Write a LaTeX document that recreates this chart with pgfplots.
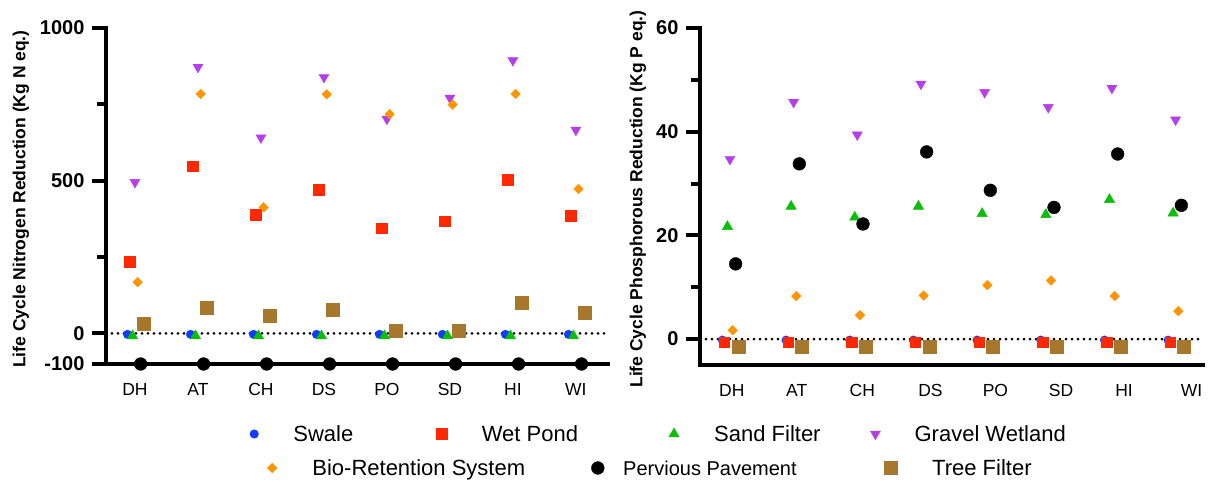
\documentclass[border=0pt]{standalone}
\usepackage{fontspec}
\setmainfont{Liberation Sans}
\usepackage{pgfplots}
\usepackage{pgfplotstable}
\pgfplotsset{compat=1.18}

\definecolor{cswale}{RGB}{20,60,250}
\definecolor{cwet}{RGB}{255,40,0}
\definecolor{csand}{RGB}{10,190,10}
\definecolor{cgravel}{RGB}{182,62,232}
\definecolor{cbio}{RGB}{255,147,0}
\definecolor{ctree}{RGB}{165,120,45}

% Nitrogen (Kg N eq.)
\pgfplotstableread{
x swale wet sand gravel bio perv tree
1 -3 234 -8 495 168 -100 31
2 -3 547 -8 872 784 -100 83
3 -3 388 -8 641 413 -100 58
4 -3 471 -8 839 783 -100 77
5 -3 344 -8 702 718 -100 9
6 -3 368 -8 771 749 -100 9
7 -3 504 -8 894 784 -100 102
8 -3 385 -8 666 473 -100 69
}\nitrogen

% Phosphorous (Kg P eq.)
\pgfplotstableread{
x swale wet sand gravel bio perv tree
1 -0.2 -0.6 21.7 34.7 1.7 14.5 -1.4
2 -0.2 -0.6 25.6 45.7 8.3 33.8 -1.4
3 -0.2 -0.6 23.5 39.4 4.6 22.2 -1.4
4 -0.2 -0.6 25.6 49.2 8.4 36.1 -1.4
5 -0.2 -0.6 24.2 47.6 10.4 28.7 -1.4
6 -0.2 -0.6 24.0 44.7 11.3 25.4 -1.4
7 -0.2 -0.6 26.9 48.4 8.3 35.7 -1.4
8 -0.2 -0.6 24.3 42.3 5.4 25.8 -1.4
}\phosphorus

\pgfplotsset{
  sSwale/.style={only marks, mark=*, color=cswale, mark size=4.3pt},
  sWet/.style={only marks, mark=square*, color=cwet, mark size=5.3pt},
  sSand/.style={only marks, mark=triangle*, color=csand, mark size=6pt},
  sGravel/.style={only marks, mark=triangle*, mark options={rotate=180}, color=cgravel, mark size=5.8pt},
  sBio/.style={only marks, mark=square*, mark options={rotate=45}, color=cbio, mark size=3.4pt},
  sPerv/.style={only marks, mark=*, color=black, mark size=6.4pt},
  sTree/.style={only marks, mark=square*, color=ctree, mark size=6.5pt},
  limg/.style={legend image code/.code={
      \draw[##1] plot coordinates {(6pt,0pt)};
      \path (0pt,0pt) (12pt,0pt);}},
  zeroline/.style={black, line width=3pt, dash pattern=on 0pt off 6pt, line cap=round, forget plot},
  panel/.style={
    scale only axis,
    axis x line*=bottom, axis y line*=left,
    axis line style={-, line width=4pt, line cap=rect, black},
    xtick=\empty,
    extra x tick labels={DH,AT,CH,DS,PO,SD,HI,WI},
    extra x tick style={tick style={draw=none}, major tick length=0pt},
    tick align=outside,
    major tick length=14pt, minor tick length=9pt,
    tick style={black, line width=4pt},
    xticklabel style={font=\fontsize{17.5}{20}\selectfont, inner sep=0pt, anchor=north, yshift=-19pt},
    yticklabel style={font=\fontsize{20}{22}\selectfont\bfseries, xshift=-4pt},
    /pgf/number format/assume math mode=true,
    /pgf/number format/1000 sep={},
    clip=false,
    legend style={draw=none, fill=none, inner sep=0pt, outer sep=0pt,
      column sep=0pt, row sep=0pt, anchor=west,
      font=\fontsize{22}{24}\selectfont,
      nodes={inner sep=0pt, text depth=0pt},
      /tikz/every even column/.append style={column sep=0pt}},
  },
}

\begin{document}
\begin{tikzpicture}
\useasboundingbox (-106pt,-119pt) rectangle (1105pt,364pt);

\begin{axis}[panel,
  width=502pt, height=336pt,
  xmin=0.54, xmax=8.51, ymin=-100, ymax=1000,
  extra x ticks={1,2,3,4,5,6,7,8},
  ytick={-100,0,500,1000}, minor ytick={250,750},
  ylabel={Life Cycle Nitrogen Reduction (Kg N eq.)},
  every axis y label/.style={at={(axis description cs:-0.1693,0.491)}, rotate=90, anchor=center,
    font=\fontsize{17.5}{20}\selectfont\bfseries},
  legend columns=4,
  legend style={at={(axis description cs:0.2829,-0.2083)}},
]
\addlegendimage{sSwale,limg}
\addlegendentry{\makebox[175pt][l]{\hspace*{33pt}Swale}}
\addlegendimage{sWet,limg}
\addlegendentry{\makebox[220pt][l]{\hspace*{34pt}Wet Pond}}
\addlegendimage{sSand,limg}
\addlegendentry{\makebox[189pt][l]{\hspace*{34pt}Sand Filter}}
\addlegendimage{sGravel,limg}
\addlegendentry{\hspace*{33pt}Gravel Wetland}

\addplot[zeroline] coordinates {(0.54,0) (8.51,0)};
\addplot[sSwale,forget plot] table[x expr=\thisrow{x}-0.118, y=swale] {\nitrogen};
\addplot[sWet,forget plot] table[x expr=\thisrow{x}-0.087, y=wet] {\nitrogen};
\addplot[sSand,forget plot] table[x expr=\thisrow{x}-0.039, y=sand] {\nitrogen};
\addplot[sGravel,forget plot] table[x=x, y=gravel] {\nitrogen};
\addplot[sBio,forget plot] table[x expr=\thisrow{x}+0.043, y=bio] {\nitrogen};
\addplot[sPerv,forget plot] table[x expr=\thisrow{x}+0.09, y=perv] {\nitrogen};
\addplot[sTree,forget plot] table[x expr=\thisrow{x}+0.134, y=tree] {\nitrogen};
\end{axis}

\begin{axis}[panel,
  at={(594pt,-1pt)},
  width=503pt, height=337pt,
  xmin=0.53, xmax=8.43, ymin=-5, ymax=60,
  % the category labels of this panel sit slightly right of their markers
  extra x ticks={1.03,2.05,3.08,4.15,5.17,6.20,7.19,8.25},
  ytick={0,20,40,60}, minor ytick={10,30,50},
  ylabel={Life Cycle Phosphorous Reduction (Kg P eq.)},
  every axis y label/.style={at={(axis description cs:-0.1233,0.4926)}, rotate=90, anchor=center,
    font=\fontsize{17.5}{20}\selectfont\bfseries},
  legend columns=3,
  legend style={at={(axis description cs:-0.8628,-0.3056)}},
]
\addlegendimage{sBio,limg}
\addlegendentry{\makebox[313pt][l]{\hspace*{34pt}Bio-Retention System}}
\addlegendimage{sPerv,limg}
\addlegendentry{\makebox[280pt][l]{\hspace*{19pt}\fontsize{20}{22}\selectfont Pervious Pavement}}
\addlegendimage{sTree,limg}
\addlegendentry{\hspace*{35pt}Tree Filter}

\addplot[zeroline] coordinates {(0.53,0) (8.43,0)};
\addplot[sSwale,forget plot] table[x expr=\thisrow{x}-0.118, y=swale] {\phosphorus};
\addplot[sWet,forget plot] table[x expr=\thisrow{x}-0.087, y=wet] {\phosphorus};
\addplot[sSand,forget plot] table[x expr=\thisrow{x}-0.039, y=sand] {\phosphorus};
\addplot[sGravel,forget plot] table[x=x, y=gravel] {\phosphorus};
\addplot[sBio,forget plot] table[x expr=\thisrow{x}+0.043, y=bio] {\phosphorus};
\addplot[sPerv,forget plot] table[x expr=\thisrow{x}+0.09, y=perv] {\phosphorus};
\addplot[sTree,forget plot] table[x expr=\thisrow{x}+0.134, y=tree] {\phosphorus};
\end{axis}
\end{tikzpicture}
\end{document}
